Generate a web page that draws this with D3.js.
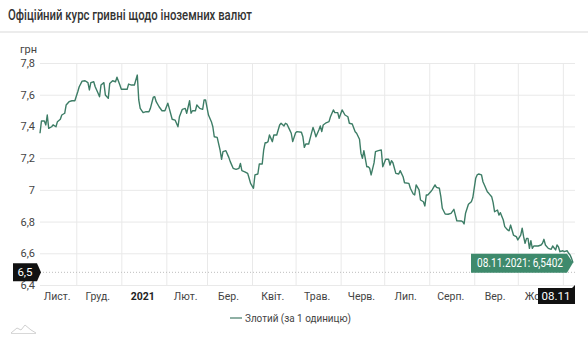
<!DOCTYPE html>
<html><head><meta charset="utf-8">
<script src="https://cdn.jsdelivr.net/npm/d3@7"></script>
<style>body{margin:0;background:#fff;font-family:Roboto,"Noto Sans",sans-serif}svg{display:block}</style>
</head><body><svg id="c" width="588" height="350"></svg>
<script>
const title = "Офіційний курс гривні щодо іноземних валют";
const unitLabel = "грн";
const seriesName = "Злотий (за 1 одиницю)";
const yTicks = [6.4, 6.6, 6.8, 7, 7.2, 7.4, 7.6, 7.8];
const monthStarts = ["2020-11-01","2020-12-01","2021-01-01","2021-02-01","2021-03-01","2021-04-01","2021-05-01","2021-06-01","2021-07-01","2021-08-01","2021-09-01","2021-10-01","2021-11-01"];
const monthLabels = ["Лист.","Груд.","2021","Лют.","Бер.","Квіт.","Трав.","Черв.","Лип.","Серп.","Вер.","Жовт."];
const boldLabels = ["2021"];
const crosshairValue = 6.48;
const crosshairLabel = "6,5";
const dates = [
"2020-11-06","2020-11-07","2020-11-09","2020-11-10","2020-11-11","2020-11-12","2020-11-14","2020-11-15","2020-11-17","2020-11-18","2020-11-20","2020-11-21","2020-11-23","2020-11-24","2020-11-26","2020-11-28","2020-11-30",
"2020-12-02","2020-12-03","2020-12-05","2020-12-07","2020-12-09","2020-12-10","2020-12-11","2020-12-13","2020-12-14","2020-12-16","2020-12-17","2020-12-18","2020-12-20","2020-12-21","2020-12-23","2020-12-24","2020-12-26","2020-12-28","2020-12-29","2020-12-31",
"2021-01-01","2021-01-03","2021-01-05","2021-01-06","2021-01-08","2021-01-10","2021-01-12","2021-01-13","2021-01-14","2021-01-16","2021-01-18","2021-01-20","2021-01-21","2021-01-23","2021-01-24","2021-01-25","2021-01-27","2021-01-29","2021-01-31",
"2021-02-02","2021-02-03","2021-02-05","2021-02-07","2021-02-09","2021-02-10","2021-02-12","2021-02-14","2021-02-15","2021-02-17","2021-02-18","2021-02-19","2021-02-21","2021-02-22","2021-02-24","2021-02-26","2021-02-27","2021-02-28",
"2021-03-02","2021-03-04","2021-03-05","2021-03-06","2021-03-08","2021-03-10","2021-03-11","2021-03-12","2021-03-14","2021-03-16","2021-03-17","2021-03-19","2021-03-21","2021-03-23","2021-03-24","2021-03-25","2021-03-27","2021-03-29","2021-03-30","2021-03-31",
"2021-04-02","2021-04-03","2021-04-05","2021-04-06","2021-04-08","2021-04-09","2021-04-10","2021-04-11","2021-04-12","2021-04-13","2021-04-15","2021-04-16","2021-04-18","2021-04-20","2021-04-21","2021-04-23","2021-04-24","2021-04-25","2021-04-27","2021-04-28","2021-04-29",
"2021-05-01","2021-05-02","2021-05-05","2021-05-06","2021-05-07","2021-05-08","2021-05-10","2021-05-11","2021-05-13","2021-05-14","2021-05-15","2021-05-17","2021-05-18","2021-05-19","2021-05-20","2021-05-22","2021-05-24","2021-05-25","2021-05-27","2021-05-28","2021-05-30","2021-05-31",
"2021-06-01","2021-06-02","2021-06-04","2021-06-06","2021-06-07","2021-06-09","2021-06-11","2021-06-12","2021-06-14","2021-06-15","2021-06-16","2021-06-17","2021-06-19","2021-06-20","2021-06-21","2021-06-22","2021-06-24","2021-06-25","2021-06-27","2021-06-29","2021-06-30",
"2021-07-02","2021-07-04","2021-07-05","2021-07-06","2021-07-07","2021-07-09","2021-07-11","2021-07-12","2021-07-14","2021-07-15","2021-07-18","2021-07-19","2021-07-21","2021-07-22","2021-07-23","2021-07-25","2021-07-26","2021-07-28","2021-07-29","2021-07-30","2021-07-31",
"2021-08-02","2021-08-03","2021-08-05","2021-08-06","2021-08-08","2021-08-09","2021-08-10","2021-08-12","2021-08-14","2021-08-16","2021-08-18","2021-08-19","2021-08-20","2021-08-23","2021-08-24","2021-08-25","2021-08-26","2021-08-28","2021-08-30","2021-08-31",
"2021-09-02","2021-09-03","2021-09-04","2021-09-06","2021-09-07","2021-09-08","2021-09-10","2021-09-11","2021-09-13","2021-09-14","2021-09-15","2021-09-17","2021-09-18","2021-09-19","2021-09-21","2021-09-22","2021-09-24","2021-09-25","2021-09-26","2021-09-28","2021-09-29","2021-09-30",
"2021-10-01","2021-10-03","2021-10-04","2021-10-05","2021-10-06","2021-10-07","2021-10-08","2021-10-09","2021-10-10","2021-10-11","2021-10-12","2021-10-15","2021-10-17","2021-10-18","2021-10-19","2021-10-20","2021-10-22","2021-10-24","2021-10-25","2021-10-27","2021-10-28","2021-10-29","2021-10-30",
"2021-11-01","2021-11-02","2021-11-04","2021-11-05","2021-11-06","2021-11-07","2021-11-08"];
const rates = [
7.357,7.434,7.434,7.409,7.472,7.388,7.398,7.41,7.398,7.43,7.445,7.472,7.483,7.535,7.556,7.562,7.562,
7.619,7.65,7.686,7.688,7.676,7.63,7.676,7.682,7.65,7.609,7.587,7.661,7.676,7.598,7.577,7.67,7.688,7.682,7.71,7.661,
7.634,7.634,7.634,7.667,7.661,7.661,7.724,7.567,7.514,7.487,7.493,7.493,7.514,7.584,7.587,7.556,7.524,7.499,7.499,
7.546,7.514,7.445,7.44,7.398,7.461,7.508,7.514,7.483,7.562,7.483,7.499,7.499,7.535,7.514,7.508,7.567,7.567,
7.472,7.43,7.398,7.335,7.331,7.251,7.193,7.241,7.247,7.205,7.178,7.136,7.129,7.136,7.167,7.121,7.114,7.104,7.073,7.041,
7.01,7.094,7.1,7.163,7.163,7.25,7.297,7.297,7.304,7.346,7.304,7.346,7.346,7.409,7.42,7.403,7.42,7.415,7.377,7.357,7.304,
7.36,7.367,7.363,7.335,7.268,7.289,7.289,7.325,7.394,7.367,7.335,7.377,7.403,7.367,7.409,7.423,7.43,7.461,7.504,7.487,7.487,7.451,
7.478,7.504,7.472,7.461,7.42,7.415,7.367,7.357,7.319,7.23,7.199,7.247,7.146,7.146,7.136,7.094,7.17,7.241,7.247,7.251,7.146,
7.193,7.193,7.157,7.184,7.171,7.104,7.1,7.121,7.083,7.045,7.041,7.01,6.974,6.968,7.031,7.0,6.936,6.925,6.898,6.968,6.968,
6.988,7.0,7.031,7.016,7.01,6.957,6.884,6.848,6.846,6.852,6.877,6.841,6.805,6.804,6.8,6.785,6.852,6.909,6.925,6.95,
7.073,7.094,7.1,7.094,7.051,7.031,6.988,6.978,6.957,6.919,6.862,6.873,6.841,6.856,6.81,6.768,6.747,6.742,6.778,6.715,6.709,6.705,
6.684,6.715,6.758,6.705,6.663,6.694,6.694,6.631,6.68,6.631,6.646,6.646,6.652,6.663,6.688,6.652,6.631,6.625,6.646,6.621,6.652,6.64,6.61,
6.616,6.61,6.616,6.6,6.589,6.568,6.5402];

const parse = d3.timeParse("%Y-%m-%d");
const data = dates.map((d, i) => ({ date: parse(d), value: rates[i] }));
const svg = d3.select("#c");
const W = 588;
const m = { left: 40, right: 573, top: 63, bottom: 285 };
const x = d3.scaleTime().domain(d3.extent(data, d => d.date)).range([m.left, m.right]);
const y = d3.scaleLinear().domain([d3.min(yTicks), d3.max(yTicks)]).range([m.bottom, m.top]);
const fmt = v => String(v).replace(".", ",");
const textCol = "#444";

// title + separator
svg.append("text").attr("x", 8).attr("y", 20).attr("font-size", 14).attr("font-weight", 500)
  .attr("fill", "#333").attr("textLength", 244).attr("lengthAdjust", "spacingAndGlyphs").text(title);
svg.append("rect").attr("x", 0).attr("y", 31).attr("width", W).attr("height", 2).attr("fill", "#ececec");

// horizontal grid + y labels
const yAxis = d3.axisLeft(y).tickValues(yTicks).tickSize(-(m.right + 2 - m.left)).tickFormat(fmt).tickPadding(5);
const gy = svg.append("g").attr("transform", `translate(${m.left},0)`).call(yAxis);
gy.select(".domain").remove();
gy.selectAll(".tick line").attr("stroke", "#e9e9e9");
gy.selectAll(".tick text").attr("font-family", "Roboto").attr("font-size", 11).attr("fill", textCol);
svg.append("text").attr("x", 20).attr("y", 53).attr("font-size", 11).attr("fill", textCol).text(unitLabel);

// vertical month gridlines
const starts = monthStarts.map(parse);
const [d0, d1] = x.domain();
const gridDates = starts.filter(d => d > d0 && d <= d1);
const gx = svg.append("g").attr("transform", `translate(0,${m.bottom})`)
  .call(d3.axisBottom(x).tickValues(gridDates).tickSize(-(m.bottom - m.top)).tickFormat(""));
gx.select(".domain").remove();
gx.selectAll(".tick line").attr("stroke", "#e9e9e9");

// month labels centred in each month
const mids = monthLabels.map((lab, i) => {
  const a = starts[i] < d0 ? d0 : starts[i];
  const b = starts[i + 1] > d1 ? d1 : starts[i + 1];
  return { lab, x: (x(a) + x(b)) / 2 };
});
svg.append("g").selectAll("text").data(mids).join("text")
  .attr("x", d => d.x - 1).attr("y", 300).attr("text-anchor", "middle")
  .attr("font-size", 10.5).attr("fill", d => boldLabels.includes(d.lab) ? "#222" : textCol)
  .attr("font-weight", d => boldLabels.includes(d.lab) ? 700 : 400).text(d => d.lab);

// crosshair
const cy = y(crosshairValue);
svg.append("line").attr("x1", m.left).attr("x2", m.right + 2).attr("y1", cy).attr("y2", cy)
  .attr("stroke", "#bdbdbd").attr("stroke-dasharray", "1,2");
svg.append("path").attr("d", `M13,${cy - 9}H37L41,${cy}L37,${cy + 9}H13Z`).attr("fill", "#111");
svg.append("text").attr("x", 25).attr("y", cy + 4).attr("text-anchor", "middle").attr("font-size", 11.5)
  .attr("fill", "#fff").text(crosshairLabel);

// line
const line = d3.line().x(d => x(d.date)).y(d => y(d.value));
svg.append("path").datum(data).attr("d", line).attr("fill", "none").attr("stroke", "#3d7d66")
  .attr("stroke-width", 1.4).attr("stroke-linejoin", "round");

// last point labels
const last = data[data.length - 1];
const lx = x(last.date), ly = y(last.value);
const tipText = d3.timeFormat("%d.%m.%Y")(last.date) + ": " + String(last.value).replace(".", ",");
svg.append("path").attr("d", `M471,${ly - 9}H567L${lx},${ly}L567,${ly + 10}H471Z`).attr("fill", "#3e8a6c");
svg.append("text").attr("x", 520).attr("y", ly + 4.5).attr("text-anchor", "middle").attr("font-size", 12)
  .attr("textLength", 86).attr("lengthAdjust", "spacingAndGlyphs")
  .attr("fill", "#fff").text(tipText);
const bx = lx + 2;
svg.append("path").attr("d", `M${bx - 37},288H${bx - 3}L${bx},285V304H${bx - 37}Z`).attr("fill", "#111");
svg.append("text").attr("x", bx - 19).attr("y", 300).attr("text-anchor", "middle").attr("font-size", 11.5)
  .attr("fill", "#fff").text(d3.timeFormat("%d.%m")(last.date));

// legend
svg.append("line").attr("x1", 230).attr("x2", 242).attr("y1", 318).attr("y2", 318)
  .attr("stroke", "#8fb0a4").attr("stroke-width", 2);
svg.append("text").attr("x", 245).attr("y", 322).attr("font-size", 11).attr("fill", textCol)
  .attr("textLength", 106).attr("lengthAdjust", "spacingAndGlyphs").text(seriesName);

// faint logo
svg.append("path").attr("d", "M11,333 L17,328 L21,330 L25,325 L31,330 L36,333").attr("fill", "none")
  .attr("stroke", "#d0d0d0").attr("stroke-width", 1);
svg.append("line").attr("x1", 11).attr("x2", 36).attr("y1", 333.5).attr("y2", 333.5).attr("stroke", "#d8d8d8");
</script></body></html>
